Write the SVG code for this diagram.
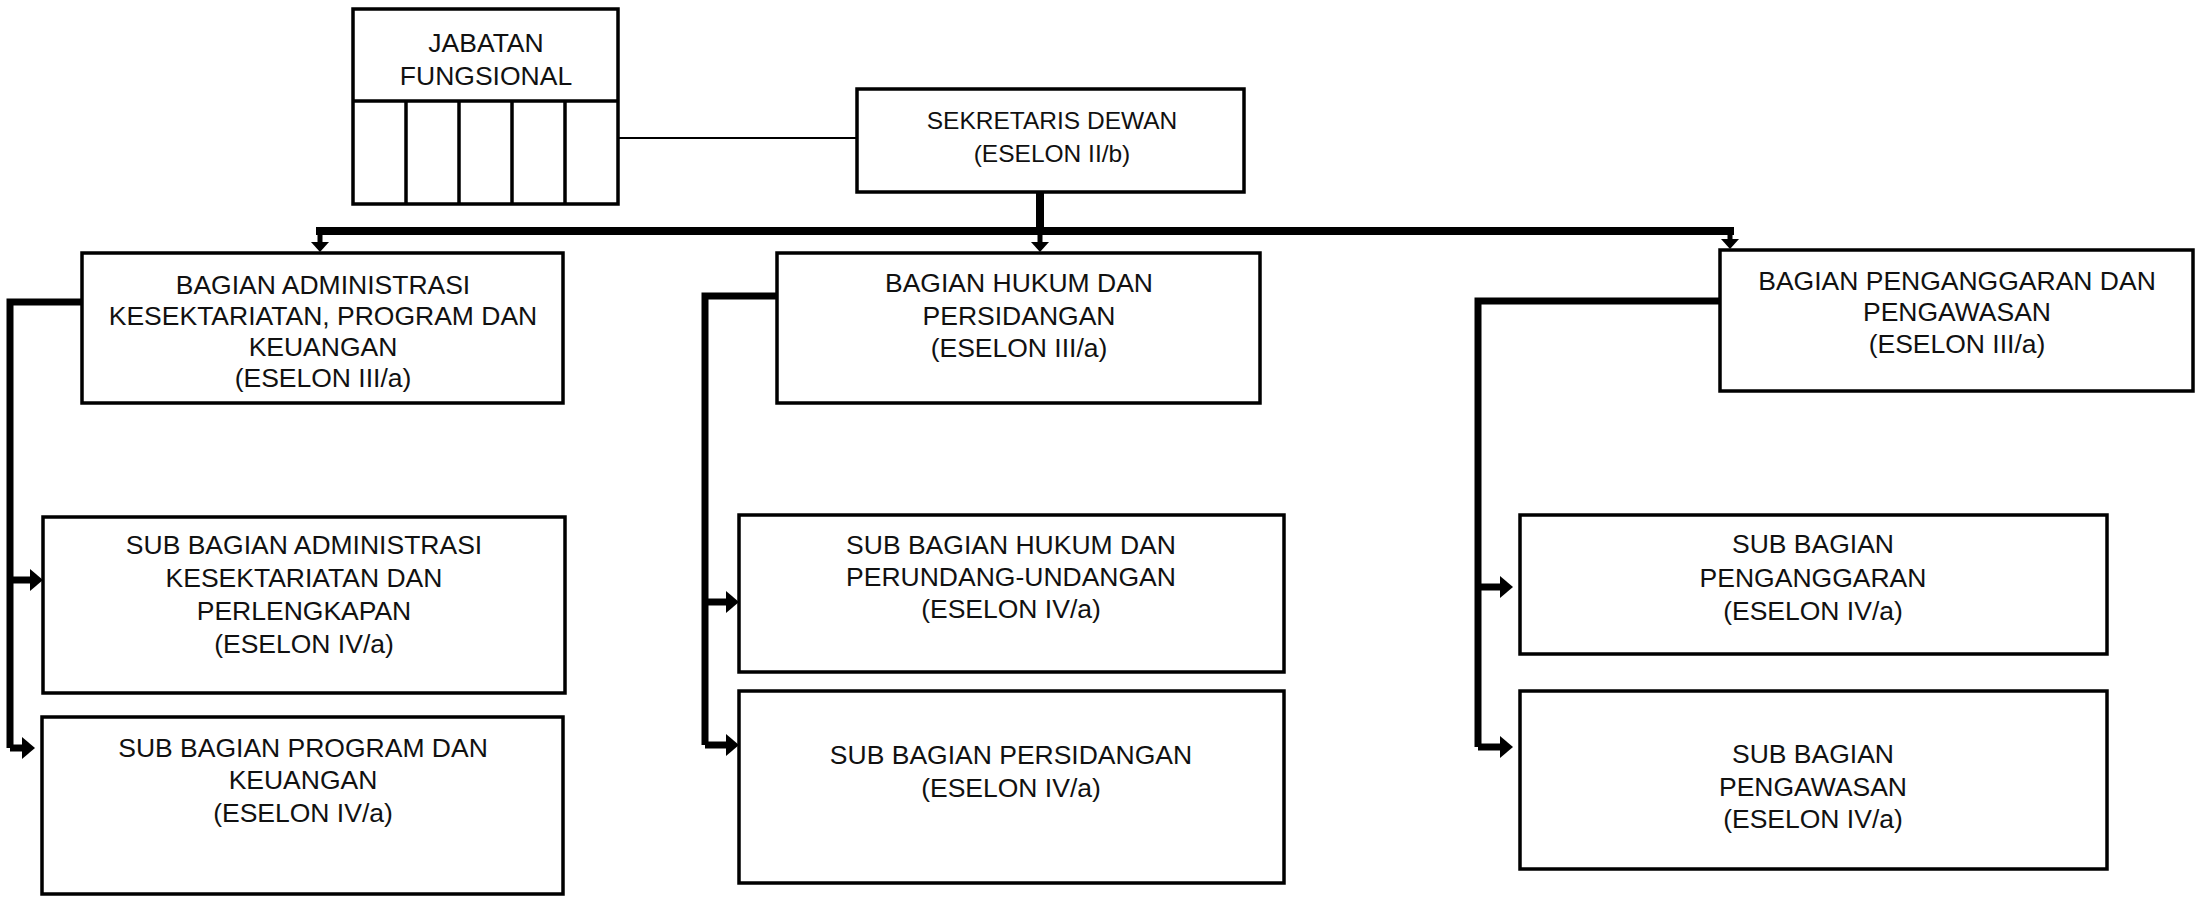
<svg xmlns="http://www.w3.org/2000/svg" width="2200" height="898" viewBox="0 0 2200 898">
<defs>
<style>
.box{fill:#fff;stroke:#000;stroke-width:3.5}
.t{font-family:"Liberation Sans",Arial,sans-serif;font-size:26.5px;fill:#111;text-anchor:middle}
.t2{font-size:24.5px}
.thick{fill:none;stroke:#000;stroke-width:8;stroke-linejoin:miter}
.thin{fill:none;stroke:#000;stroke-width:2}
.br{fill:none;stroke:#000;stroke-width:7}
.dn{fill:none;stroke:#000;stroke-width:5}
</style>
<marker id="ah" markerUnits="userSpaceOnUse" markerWidth="13" markerHeight="22" refX="0" refY="11" orient="auto" overflow="visible">
<path d="M0,0 L13,11 L0,22 z" fill="#000"/>
</marker>
<marker id="ahs" markerUnits="userSpaceOnUse" markerWidth="10" markerHeight="18" refX="0" refY="9" orient="auto" overflow="visible">
<path d="M0,0 L10,9 L0,18 z" fill="#000"/>
</marker>
</defs>
<rect width="2200" height="898" fill="#fff"/>

<g id="connectors">
<line class="thin" x1="618" y1="138" x2="857" y2="138"/>
<line class="thick" x1="1040" y1="192" x2="1040" y2="231"/>
<line class="thick" x1="316" y1="231" x2="1734" y2="231"/>
<line class="dn" x1="320" y1="231" x2="320" y2="242" marker-end="url(#ahs)"/>
<line class="dn" x1="1040" y1="231" x2="1040" y2="242" marker-end="url(#ahs)"/>
<line class="dn" x1="1730" y1="231" x2="1730" y2="239" marker-end="url(#ahs)"/>

<path class="br" d="M82,302 H10 V748"/>
<line class="br" x1="10" y1="580" x2="30" y2="580" marker-end="url(#ah)"/>
<line class="br" x1="10" y1="748" x2="22" y2="748" marker-end="url(#ah)"/>

<path class="br" d="M777,296 H705 V745"/>
<line class="br" x1="705" y1="602" x2="726" y2="602" marker-end="url(#ah)"/>
<line class="br" x1="705" y1="745" x2="726" y2="745" marker-end="url(#ah)"/>

<path class="br" d="M1720,301 H1478 V747"/>
<line class="br" x1="1478" y1="587" x2="1500" y2="587" marker-end="url(#ah)"/>
<line class="br" x1="1478" y1="747" x2="1500" y2="747" marker-end="url(#ah)"/>
</g>

<g id="jabatan-fungsional">
<rect class="box" x="353" y="9" width="265" height="195"/>
<line class="box" x1="353" y1="101" x2="618" y2="101"/>
<line class="box" x1="406" y1="101" x2="406" y2="204"/>
<line class="box" x1="459" y1="101" x2="459" y2="204"/>
<line class="box" x1="512" y1="101" x2="512" y2="204"/>
<line class="box" x1="565" y1="101" x2="565" y2="204"/>
<text class="t" x="486" y="52">JABATAN</text>
<text class="t" x="486" y="85">FUNGSIONAL</text>
</g>

<g id="sekretaris-dewan">
<rect class="box" x="857" y="89" width="387" height="103"/>
<text class="t t2" x="1052" y="129">SEKRETARIS DEWAN</text>
<text class="t t2" x="1052" y="162">(ESELON II/b)</text>
</g>

<g id="bagian-administrasi">
<rect class="box" x="82" y="253" width="481" height="150"/>
<text class="t" x="323" y="294">BAGIAN ADMINISTRASI</text>
<text class="t" x="323" y="325">KESEKTARIATAN, PROGRAM DAN</text>
<text class="t" x="323" y="356">KEUANGAN</text>
<text class="t" x="323" y="387">(ESELON III/a)</text>
</g>

<g id="bagian-hukum">
<rect class="box" x="777" y="253" width="483" height="150"/>
<text class="t" x="1019" y="292">BAGIAN HUKUM DAN</text>
<text class="t" x="1019" y="325">PERSIDANGAN</text>
<text class="t" x="1019" y="357">(ESELON III/a)</text>
</g>

<g id="bagian-penganggaran">
<rect class="box" x="1720" y="250" width="473" height="141"/>
<text class="t" x="1957" y="290">BAGIAN PENGANGGARAN DAN</text>
<text class="t" x="1957" y="321">PENGAWASAN</text>
<text class="t" x="1957" y="353">(ESELON III/a)</text>
</g>

<g id="sub-administrasi">
<rect class="box" x="43" y="517" width="522" height="176"/>
<text class="t" x="304" y="554">SUB BAGIAN ADMINISTRASI</text>
<text class="t" x="304" y="587">KESEKTARIATAN DAN</text>
<text class="t" x="304" y="620">PERLENGKAPAN</text>
<text class="t" x="304" y="653">(ESELON IV/a)</text>
</g>

<g id="sub-program">
<rect class="box" x="42" y="717" width="521" height="177"/>
<text class="t" x="303" y="757">SUB BAGIAN PROGRAM DAN</text>
<text class="t" x="303" y="789">KEUANGAN</text>
<text class="t" x="303" y="822">(ESELON IV/a)</text>
</g>

<g id="sub-hukum">
<rect class="box" x="739" y="515" width="545" height="157"/>
<text class="t" x="1011" y="554">SUB BAGIAN HUKUM DAN</text>
<text class="t" x="1011" y="586">PERUNDANG-UNDANGAN</text>
<text class="t" x="1011" y="618">(ESELON IV/a)</text>
</g>

<g id="sub-persidangan">
<rect class="box" x="739" y="691" width="545" height="192"/>
<text class="t" x="1011" y="764">SUB BAGIAN PERSIDANGAN</text>
<text class="t" x="1011" y="797">(ESELON IV/a)</text>
</g>

<g id="sub-penganggaran">
<rect class="box" x="1520" y="515" width="587" height="139"/>
<text class="t" x="1813" y="553">SUB BAGIAN</text>
<text class="t" x="1813" y="587">PENGANGGARAN</text>
<text class="t" x="1813" y="620">(ESELON IV/a)</text>
</g>

<g id="sub-pengawasan">
<rect class="box" x="1520" y="691" width="587" height="178"/>
<text class="t" x="1813" y="763">SUB BAGIAN</text>
<text class="t" x="1813" y="796">PENGAWASAN</text>
<text class="t" x="1813" y="828">(ESELON IV/a)</text>
</g>
</svg>
